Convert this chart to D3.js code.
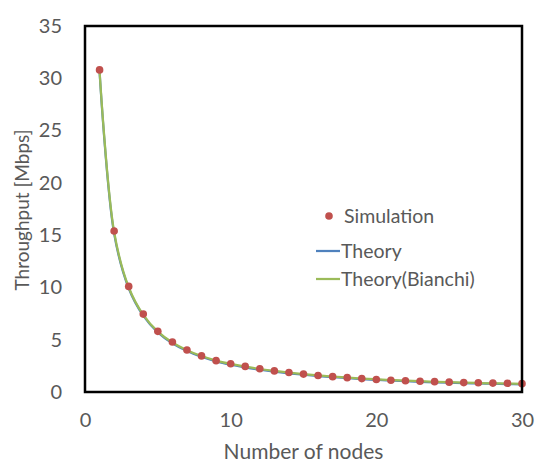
<!DOCTYPE html>
<html>
<head>
<meta charset="utf-8">
<script src="https://cdn.jsdelivr.net/npm/d3@7"></script>
<style>
  html, body { margin: 0; padding: 0; background: #ffffff; }
  svg { display: block; }
  text { font-family: Lato, "Open Sans", sans-serif; fill: #595959; }
</style>
</head>
<body>
<svg id="chart" width="536" height="462"></svg>
<script>
// Number of contending nodes
const nodes = d3.range(1, 31);

// Saturation throughput per node [Mbps]
const simulation = [30.8, 15.4, 10.1, 7.45, 5.8, 4.78, 4.02, 3.45, 3.0, 2.7,
  2.45, 2.22, 2.02, 1.86, 1.71, 1.58, 1.47, 1.37, 1.28, 1.2,
  1.13, 1.07, 1.03, 0.99, 0.94, 0.9, 0.88, 0.85, 0.83, 0.8];
const theory = [30.6, 15.15, 9.92, 7.3, 5.7, 4.66, 3.92, 3.37, 2.93, 2.61,
  2.36, 2.14, 1.95, 1.79, 1.65, 1.53, 1.42, 1.33, 1.24, 1.16,
  1.09, 1.03, 0.98, 0.93, 0.89, 0.85, 0.82, 0.79, 0.76, 0.74];
const theoryBianchi = [30.7, 15.3, 10.02, 7.38, 5.78, 4.74, 4.0, 3.44, 3.0, 2.68,
  2.42, 2.2, 2.01, 1.85, 1.71, 1.58, 1.47, 1.38, 1.29, 1.21,
  1.14, 1.08, 1.03, 0.98, 0.94, 0.9, 0.86, 0.83, 0.8, 0.78];

const xTicks = [0, 10, 20, 30];
const yTicks = [0, 5, 10, 15, 20, 25, 30, 35];

const seriesNames = ["Simulation", "Theory", "Theory(Bianchi)"];
const colors = { sim: "#C0504D", theory: "#4F81BD", bianchi: "#9BBB59" };

const svg = d3.select("#chart");
const plot = { left: 85, right: 522, top: 26, bottom: 392 };

const x = d3.scaleLinear().domain([0, 30]).range([plot.left, plot.right]);
const y = d3.scaleLinear().domain([0, 35]).range([plot.bottom, plot.top]);

// Axes (tick labels only, no tick marks)
const xAxis = svg.append("g")
  .attr("transform", `translate(0,${plot.bottom})`)
  .call(d3.axisBottom(x).tickValues(xTicks).tickSize(0).tickPadding(21));
xAxis.select(".domain").remove();
xAxis.selectAll("text").style("font-size", "20px").attr("fill", "#595959")
  .style("font-family", "Lato, sans-serif");

const yAxis = svg.append("g")
  .attr("transform", `translate(${plot.left},0)`)
  .call(d3.axisLeft(y).tickValues(yTicks).tickSize(0).tickPadding(23));
yAxis.select(".domain").remove();
yAxis.selectAll("text").style("font-size", "20px").attr("fill", "#595959")
  .style("font-family", "Lato, sans-serif");

// Axis titles
svg.append("text")
  .attr("x", (plot.left + plot.right) / 2)
  .attr("y", 459)
  .attr("text-anchor", "middle")
  .style("font-size", "21px")
  .text("Number of nodes");

svg.append("text")
  .attr("transform", `translate(29,${(plot.top + plot.bottom) / 2 + 1}) rotate(-90)`)
  .attr("text-anchor", "middle")
  .style("font-size", "19px")
  .text("Throughput [Mbps]");

// Theory curves
const line = d3.line()
  .x((d, i) => x(nodes[i]))
  .y(d => y(d))
  .curve(d3.curveCatmullRom.alpha(0.5));

svg.append("path")
  .datum(theory)
  .attr("d", line)
  .attr("fill", "none")
  .attr("stroke", colors.theory)
  .attr("stroke-width", 2.25);

svg.append("path")
  .datum(theoryBianchi)
  .attr("d", line)
  .attr("fill", "none")
  .attr("stroke", colors.bianchi)
  .attr("stroke-width", 2.25);

// Simulation points
svg.append("g")
  .selectAll("circle")
  .data(simulation)
  .join("circle")
  .attr("cx", (d, i) => x(nodes[i]))
  .attr("cy", d => y(d))
  .attr("r", 3.8)
  .attr("fill", colors.sim);

// Plot frame
svg.append("rect")
  .attr("x", plot.left)
  .attr("y", plot.top)
  .attr("width", plot.right - plot.left)
  .attr("height", plot.bottom - plot.top)
  .attr("fill", "none")
  .attr("stroke", "#000")
  .attr("stroke-width", 2.5);

// Legend
const legend = svg.append("g");
const legendRows = [
  { name: seriesNames[0], type: "dot", color: colors.sim, y: 216 },
  { name: seriesNames[1], type: "line", color: colors.theory, y: 251 },
  { name: seriesNames[2], type: "line", color: colors.bianchi, y: 279 }
];
legendRows.forEach(r => {
  if (r.type === "dot") {
    legend.append("circle").attr("cx", 329).attr("cy", r.y).attr("r", 3.8).attr("fill", r.color);
    legend.append("text").attr("x", 344).attr("y", r.y).attr("dy", "0.35em")
      .style("font-size", "19.5px").text(r.name);
  } else {
    legend.append("line").attr("x1", 316).attr("x2", 340).attr("y1", r.y).attr("y2", r.y)
      .attr("stroke", r.color).attr("stroke-width", 2.25);
    legend.append("text").attr("x", 341).attr("y", r.y).attr("dy", "0.35em")
      .style("font-size", "19.5px").text(r.name);
  }
});
</script>
</body>
</html>
